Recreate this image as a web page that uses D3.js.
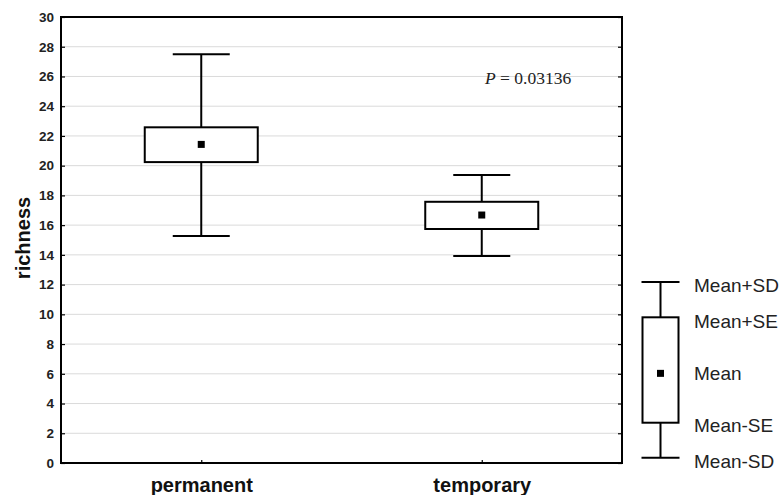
<!DOCTYPE html>
<html>
<head>
<meta charset="utf-8">
<script src="https://cdn.jsdelivr.net/npm/d3@7"></script>
<style>
  body { margin: 0; background: #fff; }
  svg { display: block; }
</style>
</head>
<body>
<div id="chart"></div>
<script>
// data
const groups    = ['permanent', 'temporary'];
const means     = [21.43, 16.68];
const seUpper   = [22.58, 17.57];
const seLower   = [20.24, 15.74];
const sdUpper   = [27.5, 19.37];
const sdLower   = [15.27, 13.92];
const yTicks    = d3.range(0, 31, 2);
const pLabel    = '0.03136';

// legend (schematic box, drawn on the same y scale)
const legendStat   = { sdHi: 12.17, seHi: 9.8, mean: 6.03, seLo: 2.71, sdLo: 0.36 };
const legendLabels = ['Mean+SD', 'Mean+SE', 'Mean', 'Mean-SE', 'Mean-SD'];

const width = 784, height = 495;
const margin = { top: 17, right: 162, bottom: 32, left: 61 };

const svg = d3.select('#chart')
  .append('svg')
  .attr('width', width)
  .attr('height', height);

const x = d3.scalePoint()
  .domain(groups)
  .range([margin.left, width - margin.right])
  .padding(0.5);

const y = d3.scaleLinear()
  .domain([0, 30])
  .range([height - margin.bottom, margin.top]);

const x0 = margin.left, x1 = width - margin.right;
const boxW = 113, capW = 57;

// grid
svg.append('g')
  .selectAll('line')
  .data(yTicks.filter(d => d > 0 && d < 30))
  .enter().append('line')
  .attr('x1', x0).attr('x2', x1)
  .attr('y1', d => y(d)).attr('y2', d => y(d))
  .style('stroke', '#dadada')
  .style('stroke-width', 1);

// y axis, ticks pointing inward
let yAxis = svg.append('g')
  .attr('transform', `translate(${x0},0)`)
  .call(d3.axisLeft(y).tickValues(yTicks).tickSize(-4).tickPadding(7));
yAxis.select('.domain').remove();
yAxis.selectAll('line').style('stroke', '#000').style('stroke-width', 1.2);
yAxis.selectAll('text')
  .style('font-family', 'Liberation Sans, Arial, sans-serif')
  .style('font-size', '13.5px')
  .style('font-weight', 'bold')
  .style('fill', '#222');

// right side ticks (inward)
let yAxisR = svg.append('g')
  .attr('transform', `translate(${x1},0)`)
  .call(d3.axisRight(y).tickValues(yTicks).tickSize(-4).tickFormat(''));
yAxisR.select('.domain').remove();
yAxisR.selectAll('line').style('stroke', '#000').style('stroke-width', 1.2);

// x axis
let xAxis = svg.append('g')
  .attr('transform', `translate(0,${y(0)})`)
  .call(d3.axisBottom(x).tickSize(-3).tickPadding(12));
xAxis.select('.domain').remove();
xAxis.selectAll('line').style('stroke', '#000').style('stroke-width', 1.2);
xAxis.selectAll('text')
  .attr('dy', '0.85em')
  .style('font-family', 'Liberation Sans, Arial, sans-serif')
  .style('font-size', '20px')
  .style('font-weight', 'bold')
  .style('fill', '#111');

// frame
svg.append('rect')
  .attr('x', x0).attr('y', y(30))
  .attr('width', x1 - x0).attr('height', y(0) - y(30))
  .style('fill', 'none')
  .style('stroke', '#000')
  .style('stroke-width', 2);

// y title
svg.append('text')
  .attr('transform', `translate(30,${(y(0) + y(30)) / 2 - 2}) rotate(-90)`)
  .attr('text-anchor', 'middle')
  .style('font-family', 'Liberation Sans, Arial, sans-serif')
  .style('font-size', '20px')
  .style('font-weight', 'bold')
  .style('fill', '#111')
  .text('richness');

// one box-whisker glyph
function drawBox(g, cx, hiSD, hiSE, m, loSE, loSD, bw, cw) {
  const line = (ax, ay, bx, by) => g.append('line')
    .attr('x1', ax).attr('y1', ay).attr('x2', bx).attr('y2', by)
    .style('stroke', '#000').style('stroke-width', 2);
  line(cx, y(hiSD), cx, y(hiSE));
  line(cx, y(loSE), cx, y(loSD));
  line(cx - cw / 2, y(hiSD), cx + cw / 2, y(hiSD));
  line(cx - cw / 2, y(loSD), cx + cw / 2, y(loSD));
  g.append('rect')
    .attr('x', cx - bw / 2).attr('y', y(hiSE))
    .attr('width', bw).attr('height', y(loSE) - y(hiSE))
    .style('fill', '#fff').style('stroke', '#000').style('stroke-width', 2);
  g.append('rect')
    .attr('x', cx - 3.5).attr('y', y(m) - 3.5)
    .attr('width', 7).attr('height', 7)
    .style('fill', '#000');
}

let boxes = svg.append('g');
groups.forEach(function (gName, i) {
  drawBox(boxes.append('g'), x(gName), sdUpper[i], seUpper[i], means[i], seLower[i], sdLower[i], boxW, capW);
});

// P value
let pt = svg.append('text')
  .attr('x', 485).attr('y', 84)
  .style('font-family', 'Liberation Serif, Times New Roman, serif')
  .style('font-size', '17.5px')
  .style('fill', '#222');
pt.append('tspan').style('font-style', 'italic').text('P');
pt.append('tspan').text(' = ' + pLabel);

// legend
const lx = 660.5;
let leg = svg.append('g');
drawBox(leg, lx, legendStat.sdHi, legendStat.seHi, legendStat.mean, legendStat.seLo, legendStat.sdLo, 36, 38);
const legVals = [legendStat.sdHi, legendStat.seHi, legendStat.mean, legendStat.seLo, legendStat.sdLo];
const legShift = [3, 4, 0, 3, 4];
leg.selectAll('.lab')
  .data(legendLabels)
  .enter().append('text')
  .attr('class', 'lab')
  .attr('x', 694)
  .attr('y', (d, i) => y(legVals[i]) + legShift[i])
  .attr('dy', '0.35em')
  .style('font-family', 'Liberation Sans, Arial, sans-serif')
  .style('font-size', '19px')
  .style('fill', '#222')
  .text(d => d);
</script>
</body>
</html>
